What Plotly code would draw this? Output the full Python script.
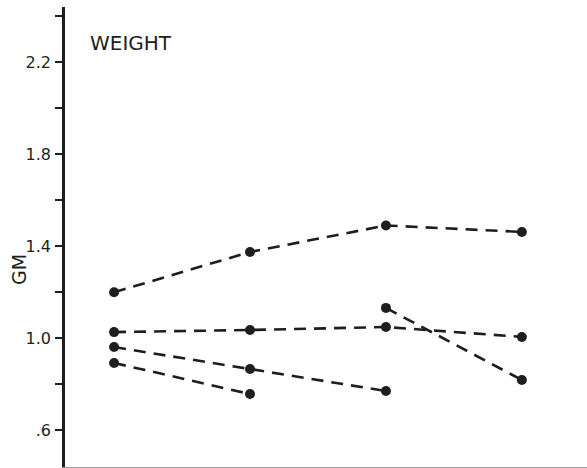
import plotly.graph_objects as go

# data
sessions = [1, 2, 3, 4]
series_a = [1.20, 1.375, 1.49, 1.462]
series_b = [1.027, 1.036, 1.049, 1.006]
series_c = [0.962, 0.867, 0.771, None]
series_d = [0.893, 0.758, None, None]
series_e = [None, None, 1.132, 0.819]

y_tickvals = [0.6, 0.8, 1.0, 1.2, 1.4, 1.6, 1.8, 2.0, 2.2, 2.4]
y_ticktext = [".6", "", "1.0", "", "1.4", "", "1.8", "", "2.2", ""]

ink = "#1e1e1e"
W, H = 587, 468
l, r, t, b = 65, 0, 7, 1
pw, ph = W - l - r, H - t - b

fig = go.Figure()
for ys in [series_a, series_b, series_c, series_d, series_e]:
    fig.add_trace(go.Scatter(
        x=sessions, y=ys, mode="lines+markers",
        line=dict(color=ink, width=2.6, dash="12px,8px"),
        marker=dict(color=ink, size=10),
        connectgaps=False, showlegend=False, hoverinfo="skip",
    ))

fig.update_layout(
    width=W, height=H,
    margin=dict(l=l, r=r, t=t, b=b, autoexpand=False),
    paper_bgcolor="white", plot_bgcolor="white",
    font=dict(family="DejaVu Sans", color=ink, size=15),
    xaxis=dict(range=[0.639, 4.479], showgrid=False, zeroline=False,
               showticklabels=False, ticks="", showline=True,
               linecolor="#a0a0a0", linewidth=1, automargin=False),
    yaxis=dict(range=[0.441, 2.439], showgrid=False, zeroline=False,
               tickvals=y_tickvals, ticktext=y_ticktext,
               ticks="outside", ticklen=7, tickwidth=2, tickcolor=ink,
               showline=True, linecolor=ink, linewidth=2.6,
               automargin=False, ticklabelstandoff=1,
               tickfont=dict(size=16, family="DejaVu Sans", color=ink)),
)
fig.add_annotation(text="WEIGHT", xref="paper", yref="paper",
                   x=(88 - l) / pw, y=1 - (43 - t) / ph,
                   xanchor="left", yanchor="middle", showarrow=False,
                   font=dict(size=20, family="DejaVu Sans", color=ink))
fig.add_annotation(text="GM", xref="paper", yref="paper", textangle=-90,
                   x=(19 - l) / pw, y=1 - (270 - t) / ph,
                   xanchor="center", yanchor="middle", showarrow=False,
                   font=dict(size=19, family="DejaVu Sans", color=ink))

fig.write_html("out.html",
               config={"displayModeBar": False},
               post_script="document.body.style.margin='0';"
                           "document.body.style.overflow='hidden';")
